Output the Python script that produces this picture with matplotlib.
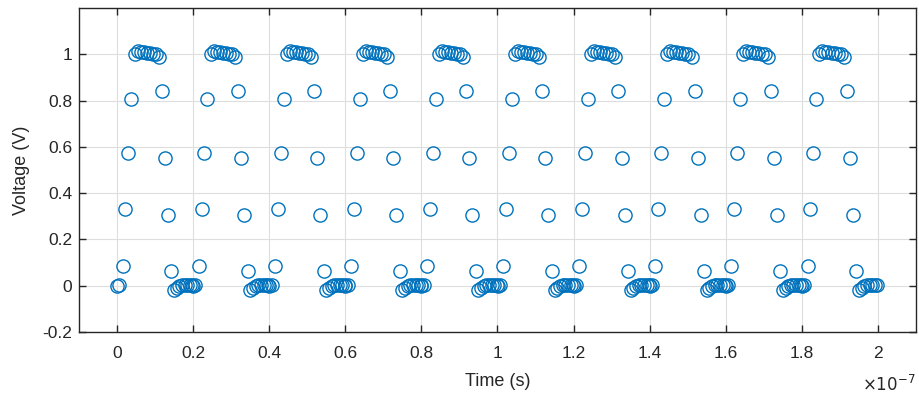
import matplotlib
matplotlib.use("Agg")
import matplotlib.pyplot as plt
import numpy as np

plt.rcParams['font.family'] = ['Liberation Sans', 'DejaVu Sans']

# one period of the sampled pulse: time offsets (ns) within the period and voltages (V)
period_ns = 20.0
n_periods = 10
offset_ns = [0.0, 0.6,
             1.5, 2.2, 2.97, 3.76,
             4.6, 5.4, 6.2, 7.0, 7.8, 8.6, 9.4, 10.2, 11.0,
             11.8, 12.6, 13.4, 14.3, 15.0,
             15.7, 16.4, 17.1, 17.8, 18.5, 19.2, 19.8]
volts = [0.0, 0.003,
         0.084, 0.33, 0.575, 0.806,
         1.0, 1.015, 1.012, 1.008, 1.005, 1.005, 1.002, 1.0, 0.99,
         0.84, 0.552, 0.306, 0.062, -0.02,
         -0.012, 0.0, 0.004, 0.002, 0.003, 0.002, 0.002]

xticks = [0, 0.2e-7, 0.4e-7, 0.6e-7, 0.8e-7, 1.0e-7, 1.2e-7, 1.4e-7, 1.6e-7, 1.8e-7, 2.0e-7]
xticklabels = ['0', '0.2', '0.4', '0.6', '0.8', '1', '1.2', '1.4', '1.6', '1.8', '2']
yticks = [-0.2, 0, 0.2, 0.4, 0.6, 0.8, 1.0]
yticklabels = ['-0.2', '0', '0.2', '0.4', '0.6', '0.8', '1']

t = []
v = []
for k in range(n_periods):
    for o, val in zip(offset_ns, volts):
        t.append((k * period_ns + o) * 1e-9)
        v.append(val)

fig = plt.figure(figsize=(9.19, 3.98), dpi=100)
ax = fig.add_axes([79/919, 1 - 332/398, (916 - 79)/919, (332 - 8)/398])

ax.plot(t, v, linestyle='none', marker='o', markersize=9.5, markerfacecolor='none',
        markeredgecolor='#0072BD', markeredgewidth=1.0)

ax.set_xlim(-1e-8, 2.1e-7)
ax.set_ylim(-0.2, 1.2)
ax.set_xticks(xticks)
ax.set_xticklabels(xticklabels)
ax.set_yticks(yticks)
ax.set_yticklabels(yticklabels)

ax.grid(True, color='#dedede', linewidth=0.8)
ax.set_axisbelow(True)
for s in ax.spines.values():
    s.set_color('#262626')
    s.set_linewidth(1.0)
ax.tick_params(direction='in', length=5, width=1.0, colors='#262626', labelsize=12.5,
               top=True, right=True)
ax.tick_params(axis='x', pad=10)
ax.tick_params(axis='y', pad=5)

ax.set_xlabel('Time (s)', fontsize=13, color='#262626', labelpad=9)
ax.set_ylabel('Voltage (V)', fontsize=13, color='#262626', labelpad=9)

ax.text(1.0, -0.13, r'$\times10^{-7}$', transform=ax.transAxes, ha='right', va='top',
        fontsize=12, color='#262626')

fig.savefig('out.png', dpi=100)
